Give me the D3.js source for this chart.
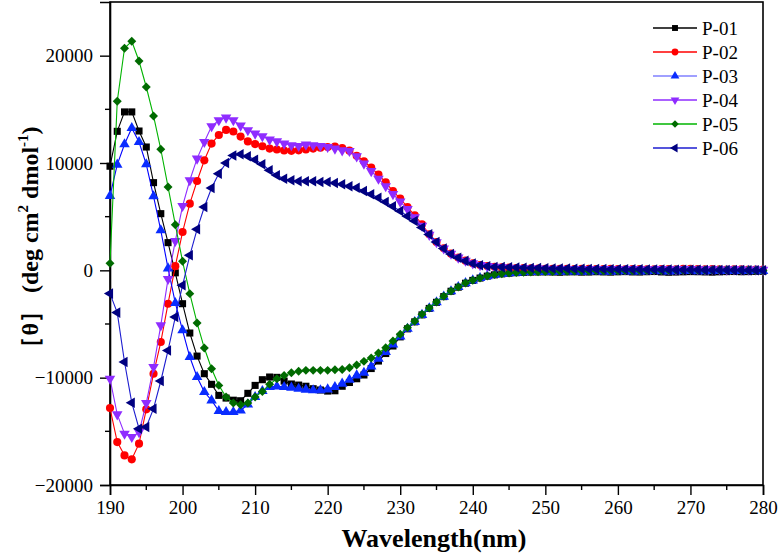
<!DOCTYPE html>
<html><head><meta charset="utf-8">
<script src="https://cdn.jsdelivr.net/npm/d3@7"></script>
<style>body{margin:0;background:#fff}svg{display:block}
text{font-family:"Liberation Serif","Times New Roman",serif !important}</style>
</head><body><svg id="c" width="780" height="556"></svg>
<script>
const wavelengths = d3.range(190, 281, 1);
const seriesNames = ["P-01","P-02","P-03","P-04","P-05","P-06"];
const xTicks = [190,200,210,220,230,240,250,260,270,280];
const yTicks = [-20000,-10000,0,10000,20000];

const p01 = [9700,12950,14760,14760,12980,11490,8170,5280,2580,-230,
 -3110,-5840,-7990,-9630,-10620,-11650,-11900,-12100,-12150,-11460,
 -10720,-10190,-9940,-9970,-10320,-10590,-10690,-10800,-11030,-11150,
 -11250,-11220,-10800,-10450,-10100,-9750,-9150,-8450,-7750,-7050,
 -6200,-5450,-4800,-4150,-3550,-2980,-2450,-1950,-1570,-1200,
 -940,-720,-540,-420,-330,-270,-220,-190,-170,-160,
 -150,-160,-180,-150,-140,-170,-160,-130,-150,-170,
 -140,-120,-150,-160,-130,-110,-150,-180,-160,-140,
 -120,-130,-150,-170,-140,-120,-110,-130,-120,-100,-90];
const p02 = [-12830,-16000,-17240,-17610,-16150,-12950,-9630,-6680,-3110,390,
 3570,6210,8320,10250,11810,12610,13080,12940,12460,12010,
 11760,11560,11340,11260,11160,11130,11180,11260,11340,11420,
 11490,11540,11400,11150,10670,10160,9570,8920,8200,7390,
 6680,5900,5130,4290,3360,2640,2050,1560,1200,900,
 660,500,400,330,280,250,220,200,180,170,
 150,140,150,130,120,140,130,110,120,130,
 110,100,120,110,90,100,120,110,100,130,
 140,120,100,110,90,80,100,90,70,80,60];
const p03 = [6930,9850,11740,13260,11960,9880,6900,3730,180,-3040,
 -5590,-8080,-9940,-11340,-12120,-13110,-13200,-13200,-13050,-12500,
 -11800,-11250,-10870,-10810,-10870,-10930,-11030,-11120,-11180,-11180,
 -11090,-10870,-10560,-10190,-9790,-9540,-8950,-8230,-7610,-6900,
 -6150,-5450,-4820,-4150,-3550,-2980,-2450,-1950,-1560,-1190,
 -940,-720,-540,-410,-320,-260,-210,-180,-160,-150,
 -130,-120,-140,-110,-100,-120,-110,-90,-100,-120,
 -90,-80,-100,-110,-90,-70,-90,-100,-80,-70,
 -60,-80,-90,-70,-60,-50,-70,-60,-50,-40,-50];
const p04 = [-10100,-13420,-15220,-15530,-15070,-12370,-9010,-5130,-800,2730,
 5990,8390,10410,11960,13420,13980,14230,13980,13480,13050,
 12740,12490,12180,12020,11810,11650,11590,11710,11650,11590,
 11490,11340,11180,11120,10620,9940,9250,8540,7830,7100,
 6400,5700,4950,4150,3300,2620,2030,1550,1190,890,
 650,490,390,320,280,240,210,190,170,160,
 140,130,140,120,110,130,120,100,110,120,
 100,90,110,100,80,90,110,100,90,110,
 120,100,90,100,80,70,90,80,60,70,50];
const p05 = [650,15750,20700,21340,19500,17080,14380,11280,7770,4250,
 840,-2170,-4900,-7240,-9170,-10720,-11800,-12360,-12520,-12360,
 -11800,-11280,-10620,-10100,-9790,-9540,-9410,-9320,-9320,-9320,
 -9320,-9260,-9230,-9070,-8820,-8480,-8170,-7700,-7210,-6580,
 -5960,-5340,-4750,-4100,-3510,-2950,-2420,-1930,-1550,-1180,
 -930,-710,-530,-400,-310,-250,-200,-170,-150,-130,
 -110,-100,-90,-80,-70,-60,-70,-50,-40,-50,
 -30,-20,-30,-20,-10,0,-10,10,20,10,
 30,20,10,20,30,40,20,10,0,-10,-20];
const p06 = [-2170,-3940,-8540,-12330,-14750,-14600,-12890,-10310,-7460,-4350,
 -1400,1400,3820,5900,7670,9010,10000,10690,10810,10620,
 10310,9880,9320,8850,8540,8390,8290,8290,8290,8230,
 8230,8140,8010,7830,7700,7390,7080,6770,6370,5960,
 5530,5050,4600,4000,3350,2650,2030,1530,1180,880,
 630,480,380,320,300,280,260,240,220,210,
 190,180,170,160,150,140,130,130,120,110,
 100,100,90,90,80,80,70,70,60,60,
 50,50,40,40,30,30,20,20,10,10,0];

const seriesValues = [p01,p02,p03,p04,p05,p06];
const lineColors = ["#000000","#ff0000","#0000ff","#8f2cff","#00b400","#1c1cd0"];
const markerColors = ["#000000","#ff0000","#0a2cff","#8f2cff","#006a00","#000080"];
const legendLineColors = ["#000000","#ff0000","#8080ff","#8f2cff","#00b400","#1c1cd0"];

const svg = d3.select("#c");
const L=110, R=763, T=2, B=485;
const x = d3.scaleLinear().domain([190,280]).range([L,R]);
const y = d3.scaleLinear().domain([-20000,25000]).range([B,T]);
const FONT = "Liberation Serif";

// frame
svg.append("rect").attr("x",L).attr("y",T).attr("width",R-L).attr("height",B-T)
  .attr("fill","none").attr("stroke","#000").attr("stroke-width",1.6);

// axes
const xMinor = d3.range(195,280,10);
const yMinor = [-15000,-5000,5000,15000];
const gx = svg.append("g").attr("transform",`translate(0,${B})`);
gx.call(d3.axisBottom(x).tickValues(xTicks).tickSize(10).tickPadding(6).tickFormat(d3.format("d")));
gx.append("g").selectAll("line").data(xMinor).join("line")
  .attr("x1",d=>x(d)).attr("x2",d=>x(d)).attr("y1",0).attr("y2",5).attr("stroke","#000").attr("stroke-width",1.4);
const gy = svg.append("g").attr("transform",`translate(${L},0)`);
gy.call(d3.axisLeft(y).tickValues(yTicks).tickSize(10).tickPadding(7).tickFormat(d3.format("d")));
gy.append("g").selectAll("line").data(yMinor).join("line")
  .attr("y1",d=>y(d)).attr("y2",d=>y(d)).attr("x1",0).attr("x2",-5).attr("stroke","#000").attr("stroke-width",1.4);
[gx,gy].forEach(g=>{
  g.attr("font-family",FONT);
  g.select(".domain").attr("stroke","#000").attr("stroke-width",1.6);
  g.selectAll(".tick line").attr("stroke","#000").attr("stroke-width",1.4);
  g.selectAll(".tick text").style("font-family",FONT).attr("font-size",19).attr("fill","#000");
});

// symbols
function symPath(i, size){
  const s = [d3.symbolSquare,d3.symbolCircle,d3.symbolTriangle,d3.symbolTriangle,d3.symbolSquare,d3.symbolTriangle][i];
  return d3.symbol().type(s).size(size)();
}
const symRot = [0,0,0,180,45,-90];
const symSize = [50,52,48,48,40,48];

const line = d3.line().x((d,i)=>x(wavelengths[i])).y(d=>y(d));
seriesValues.forEach((vals,i)=>{
  const g = svg.append("g");
  g.append("path").attr("d",line(vals)).attr("fill","none").attr("stroke",lineColors[i]).attr("stroke-width",1.1);
  g.selectAll("path.m").data(vals).join("path").attr("class","m")
    .attr("d",symPath(i,symSize[i]))
    .attr("transform",(d,j)=>`translate(${x(wavelengths[j])},${y(d)}) rotate(${symRot[i]})`)
    .attr("fill",markerColors[i]);
});

// legend
const lg = svg.append("g");
seriesNames.forEach((n,i)=>{
  const cy = 28 + i*24;
  lg.append("line").attr("x1",653).attr("x2",697).attr("y1",cy).attr("y2",cy)
    .attr("stroke",legendLineColors[i]).attr("stroke-width",1.3);
  lg.append("path").attr("d",symPath(i,symSize[i]*0.7))
    .attr("transform",`translate(675,${cy}) rotate(${symRot[i]})`).attr("fill",markerColors[i]);
  lg.append("text").attr("x",702).attr("y",cy+6.5).text(n)
    .style("font-family",FONT).attr("font-size",19).attr("fill","#000");
});

// axis titles
svg.append("text").attr("x",434).attr("y",547).attr("text-anchor","middle")
  .style("font-family",FONT).attr("font-weight","bold").attr("font-size",26).text("Wavelength(nm)");
const yt = svg.append("text").attr("transform","translate(38,243) rotate(-90)").attr("text-anchor","middle")
  .style("font-family",FONT).attr("font-weight","bold").attr("font-size",24);
yt.append("tspan").text("［θ］ (deg cm");
yt.append("tspan").attr("font-size",15).attr("dy",-10).text("2");
yt.append("tspan").attr("dy",10).text(" dmol");
yt.append("tspan").attr("font-size",15).attr("dy",-10).text("-1");
yt.append("tspan").attr("dy",10).text(")");
</script></body></html>
